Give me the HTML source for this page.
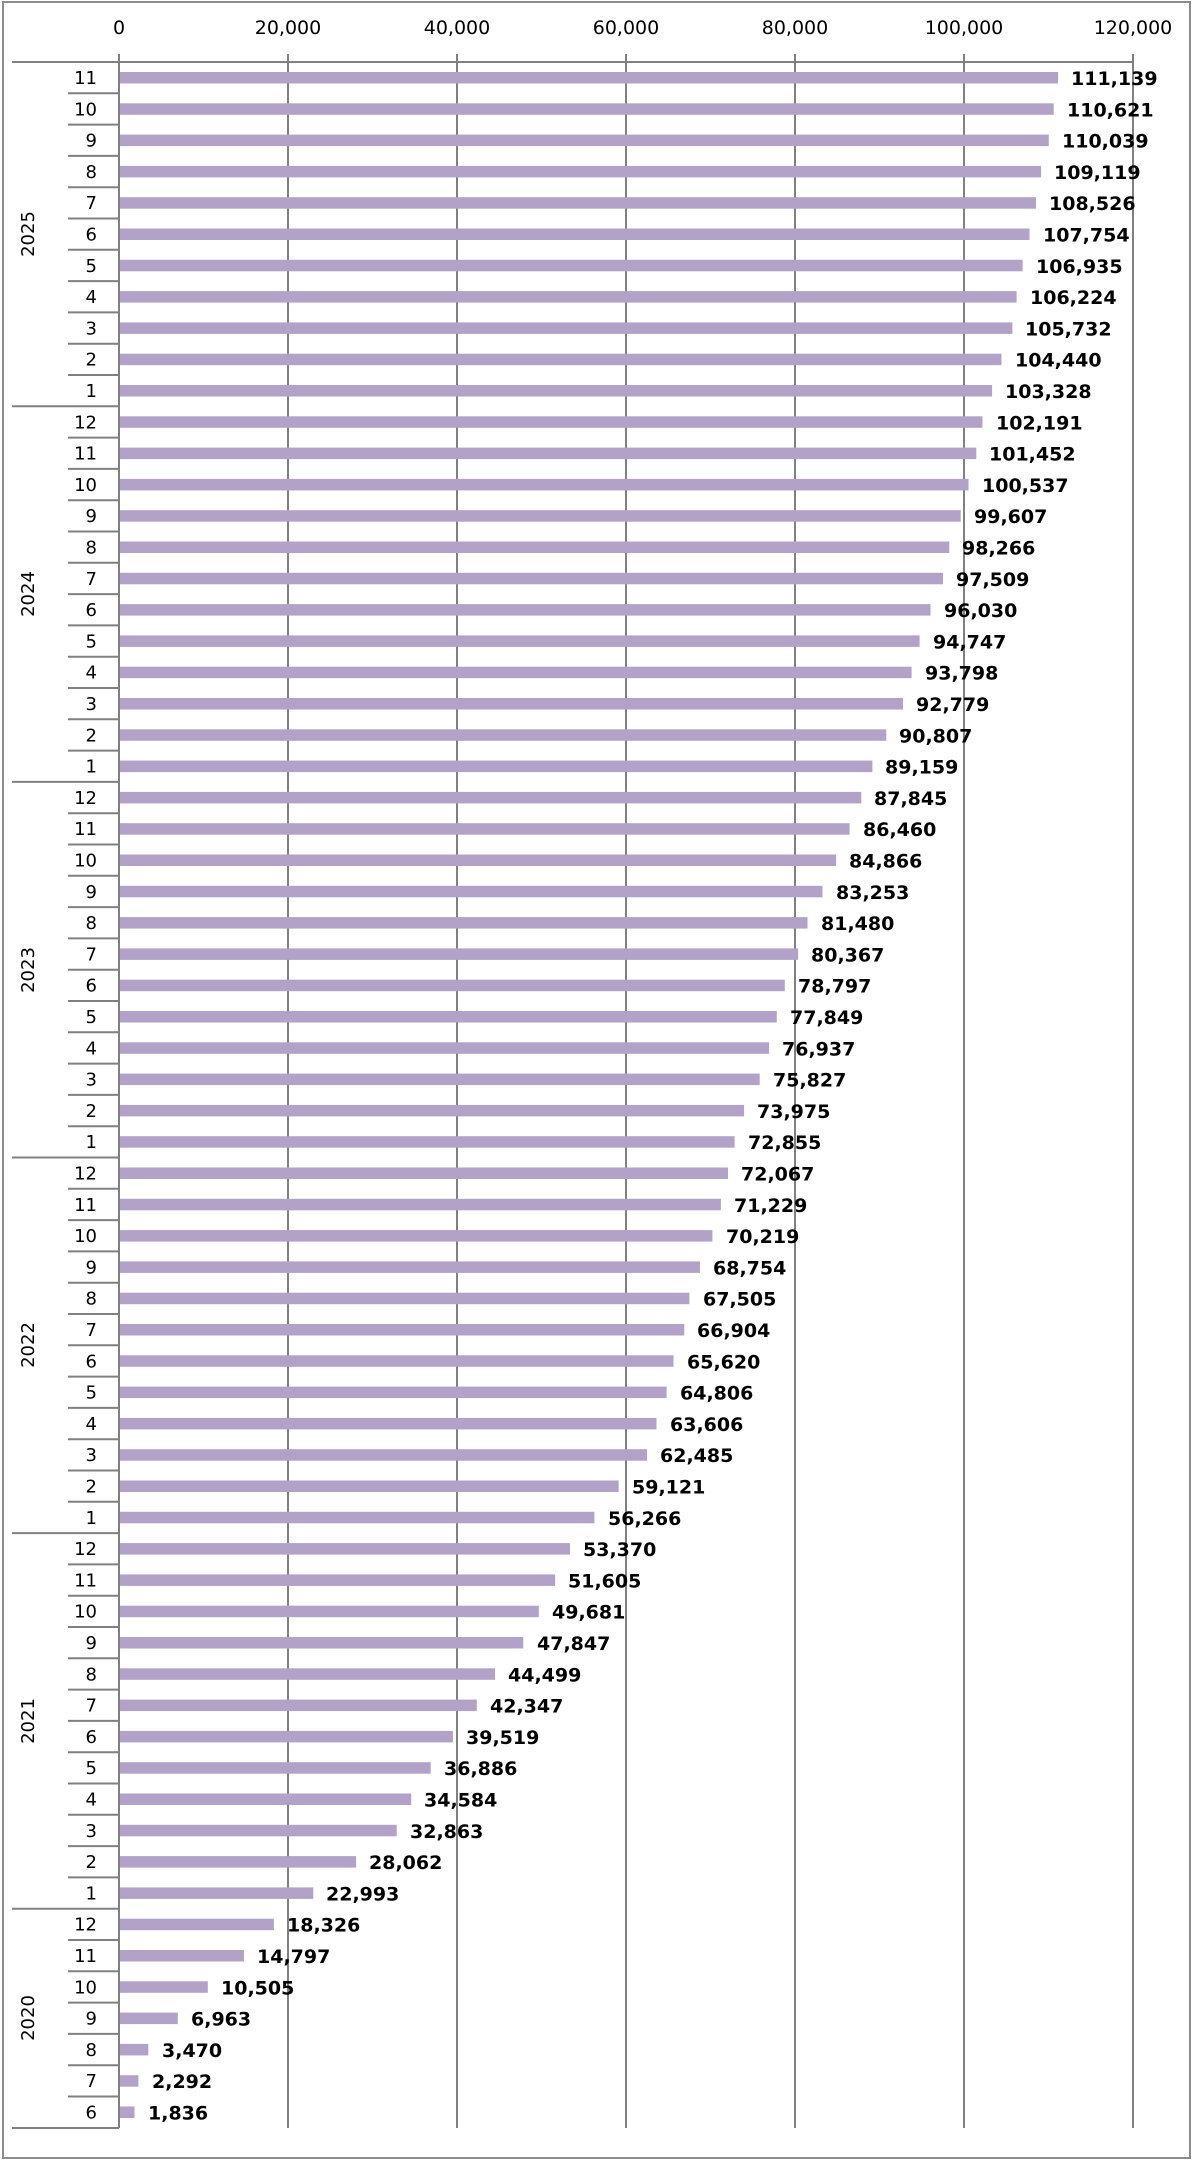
<!DOCTYPE html>
<html><head><meta charset="utf-8"><style>
html,body{margin:0;padding:0;background:#fff;}
svg{display:block;}
.m{font-family:"DejaVu Sans","Liberation Sans",sans-serif;font-size:18px;fill:#000;text-anchor:end;}
.v{font-family:"DejaVu Sans","Liberation Sans",sans-serif;font-size:19px;font-weight:bold;fill:#000;}
.t{font-family:"DejaVu Sans","Liberation Sans",sans-serif;font-size:19px;fill:#000;text-anchor:middle;}
.y{font-family:"DejaVu Sans","Liberation Sans",sans-serif;font-size:18px;fill:#000;text-anchor:middle;}
.b{fill:#b3a2c7;}
.s{stroke:#808080;stroke-width:2;}
</style></head><body>
<svg width="1200" height="2160" viewBox="0 0 1200 2160" xmlns="http://www.w3.org/2000/svg">
<rect x="3" y="2" width="1187" height="2156" fill="#fff" stroke="#8c8c8c" stroke-width="2"/>
<g class="s">
<line x1="288" y1="54" x2="288" y2="2128"/><line x1="457" y1="54" x2="457" y2="2128"/><line x1="626" y1="54" x2="626" y2="2128"/><line x1="795" y1="54" x2="795" y2="2128"/><line x1="964" y1="54" x2="964" y2="2128"/><line x1="1133" y1="54" x2="1133" y2="2128"/>
</g>
<text class="t" x="119" y="34">0</text><text class="t" x="288" y="34">20,000</text><text class="t" x="457" y="34">40,000</text><text class="t" x="626" y="34">60,000</text><text class="t" x="795" y="34">80,000</text><text class="t" x="964" y="34">100,000</text><text class="t" x="1133" y="34">120,000</text>
<g transform="translate(0,62)">
<g transform="translate(0,0)"><rect class="b" x="119" y="10" width="939.1" height="11.5"/><text class="m" x="97" y="22">11</text><text class="v" x="1071" y="23">111,139</text></g>
<g transform="translate(0,31.3)"><rect class="b" x="119" y="10" width="934.7" height="11.5"/><text class="m" x="97" y="22">10</text><text class="v" x="1067" y="23">110,621</text></g>
<g transform="translate(0,62.6)"><rect class="b" x="119" y="10" width="929.8" height="11.5"/><text class="m" x="97" y="22">9</text><text class="v" x="1062" y="23">110,039</text></g>
<g transform="translate(0,93.9)"><rect class="b" x="119" y="10" width="922.1" height="11.5"/><text class="m" x="97" y="22">8</text><text class="v" x="1054" y="23">109,119</text></g>
<g transform="translate(0,125.2)"><rect class="b" x="119" y="10" width="917.0" height="11.5"/><text class="m" x="97" y="22">7</text><text class="v" x="1049" y="23">108,526</text></g>
<g transform="translate(0,156.5)"><rect class="b" x="119" y="10" width="910.5" height="11.5"/><text class="m" x="97" y="22">6</text><text class="v" x="1043" y="23">107,754</text></g>
<g transform="translate(0,187.8)"><rect class="b" x="119" y="10" width="903.6" height="11.5"/><text class="m" x="97" y="22">5</text><text class="v" x="1036" y="23">106,935</text></g>
<g transform="translate(0,219.1)"><rect class="b" x="119" y="10" width="897.6" height="11.5"/><text class="m" x="97" y="22">4</text><text class="v" x="1030" y="23">106,224</text></g>
<g transform="translate(0,250.4)"><rect class="b" x="119" y="10" width="893.4" height="11.5"/><text class="m" x="97" y="22">3</text><text class="v" x="1025" y="23">105,732</text></g>
<g transform="translate(0,281.7)"><rect class="b" x="119" y="10" width="882.5" height="11.5"/><text class="m" x="97" y="22">2</text><text class="v" x="1015" y="23">104,440</text></g>
<g transform="translate(0,313.0)"><rect class="b" x="119" y="10" width="873.1" height="11.5"/><text class="m" x="97" y="22">1</text><text class="v" x="1005" y="23">103,328</text></g>
<g transform="translate(0,344.3)"><rect class="b" x="119" y="10" width="863.5" height="11.5"/><text class="m" x="97" y="22">12</text><text class="v" x="996" y="23">102,191</text></g>
<g transform="translate(0,375.6)"><rect class="b" x="119" y="10" width="857.3" height="11.5"/><text class="m" x="97" y="22">11</text><text class="v" x="989" y="23">101,452</text></g>
<g transform="translate(0,406.9)"><rect class="b" x="119" y="10" width="849.5" height="11.5"/><text class="m" x="97" y="22">10</text><text class="v" x="982" y="23">100,537</text></g>
<g transform="translate(0,438.2)"><rect class="b" x="119" y="10" width="841.7" height="11.5"/><text class="m" x="97" y="22">9</text><text class="v" x="974" y="23">99,607</text></g>
<g transform="translate(0,469.5)"><rect class="b" x="119" y="10" width="830.3" height="11.5"/><text class="m" x="97" y="22">8</text><text class="v" x="962" y="23">98,266</text></g>
<g transform="translate(0,500.8)"><rect class="b" x="119" y="10" width="824.0" height="11.5"/><text class="m" x="97" y="22">7</text><text class="v" x="956" y="23">97,509</text></g>
<g transform="translate(0,532.1)"><rect class="b" x="119" y="10" width="811.5" height="11.5"/><text class="m" x="97" y="22">6</text><text class="v" x="944" y="23">96,030</text></g>
<g transform="translate(0,563.4)"><rect class="b" x="119" y="10" width="800.6" height="11.5"/><text class="m" x="97" y="22">5</text><text class="v" x="933" y="23">94,747</text></g>
<g transform="translate(0,594.7)"><rect class="b" x="119" y="10" width="792.6" height="11.5"/><text class="m" x="97" y="22">4</text><text class="v" x="925" y="23">93,798</text></g>
<g transform="translate(0,626.0)"><rect class="b" x="119" y="10" width="784.0" height="11.5"/><text class="m" x="97" y="22">3</text><text class="v" x="916" y="23">92,779</text></g>
<g transform="translate(0,657.3)"><rect class="b" x="119" y="10" width="767.3" height="11.5"/><text class="m" x="97" y="22">2</text><text class="v" x="899" y="23">90,807</text></g>
<g transform="translate(0,688.6)"><rect class="b" x="119" y="10" width="753.4" height="11.5"/><text class="m" x="97" y="22">1</text><text class="v" x="885" y="23">89,159</text></g>
<g transform="translate(0,719.9)"><rect class="b" x="119" y="10" width="742.3" height="11.5"/><text class="m" x="97" y="22">12</text><text class="v" x="874" y="23">87,845</text></g>
<g transform="translate(0,751.2)"><rect class="b" x="119" y="10" width="730.6" height="11.5"/><text class="m" x="97" y="22">11</text><text class="v" x="863" y="23">86,460</text></g>
<g transform="translate(0,782.5)"><rect class="b" x="119" y="10" width="717.1" height="11.5"/><text class="m" x="97" y="22">10</text><text class="v" x="849" y="23">84,866</text></g>
<g transform="translate(0,813.8)"><rect class="b" x="119" y="10" width="703.5" height="11.5"/><text class="m" x="97" y="22">9</text><text class="v" x="836" y="23">83,253</text></g>
<g transform="translate(0,845.1)"><rect class="b" x="119" y="10" width="688.5" height="11.5"/><text class="m" x="97" y="22">8</text><text class="v" x="821" y="23">81,480</text></g>
<g transform="translate(0,876.4)"><rect class="b" x="119" y="10" width="679.1" height="11.5"/><text class="m" x="97" y="22">7</text><text class="v" x="811" y="23">80,367</text></g>
<g transform="translate(0,907.7)"><rect class="b" x="119" y="10" width="665.8" height="11.5"/><text class="m" x="97" y="22">6</text><text class="v" x="798" y="23">78,797</text></g>
<g transform="translate(0,939.0)"><rect class="b" x="119" y="10" width="657.8" height="11.5"/><text class="m" x="97" y="22">5</text><text class="v" x="790" y="23">77,849</text></g>
<g transform="translate(0,970.3)"><rect class="b" x="119" y="10" width="650.1" height="11.5"/><text class="m" x="97" y="22">4</text><text class="v" x="782" y="23">76,937</text></g>
<g transform="translate(0,1001.6)"><rect class="b" x="119" y="10" width="640.7" height="11.5"/><text class="m" x="97" y="22">3</text><text class="v" x="773" y="23">75,827</text></g>
<g transform="translate(0,1032.9)"><rect class="b" x="119" y="10" width="625.1" height="11.5"/><text class="m" x="97" y="22">2</text><text class="v" x="757" y="23">73,975</text></g>
<g transform="translate(0,1064.2)"><rect class="b" x="119" y="10" width="615.6" height="11.5"/><text class="m" x="97" y="22">1</text><text class="v" x="748" y="23">72,855</text></g>
<g transform="translate(0,1095.5)"><rect class="b" x="119" y="10" width="609.0" height="11.5"/><text class="m" x="97" y="22">12</text><text class="v" x="741" y="23">72,067</text></g>
<g transform="translate(0,1126.8)"><rect class="b" x="119" y="10" width="601.9" height="11.5"/><text class="m" x="97" y="22">11</text><text class="v" x="734" y="23">71,229</text></g>
<g transform="translate(0,1158.1)"><rect class="b" x="119" y="10" width="593.4" height="11.5"/><text class="m" x="97" y="22">10</text><text class="v" x="726" y="23">70,219</text></g>
<g transform="translate(0,1189.4)"><rect class="b" x="119" y="10" width="581.0" height="11.5"/><text class="m" x="97" y="22">9</text><text class="v" x="713" y="23">68,754</text></g>
<g transform="translate(0,1220.7)"><rect class="b" x="119" y="10" width="570.4" height="11.5"/><text class="m" x="97" y="22">8</text><text class="v" x="703" y="23">67,505</text></g>
<g transform="translate(0,1252.0)"><rect class="b" x="119" y="10" width="565.3" height="11.5"/><text class="m" x="97" y="22">7</text><text class="v" x="697" y="23">66,904</text></g>
<g transform="translate(0,1283.3)"><rect class="b" x="119" y="10" width="554.5" height="11.5"/><text class="m" x="97" y="22">6</text><text class="v" x="687" y="23">65,620</text></g>
<g transform="translate(0,1314.6)"><rect class="b" x="119" y="10" width="547.6" height="11.5"/><text class="m" x="97" y="22">5</text><text class="v" x="680" y="23">64,806</text></g>
<g transform="translate(0,1345.9)"><rect class="b" x="119" y="10" width="537.5" height="11.5"/><text class="m" x="97" y="22">4</text><text class="v" x="670" y="23">63,606</text></g>
<g transform="translate(0,1377.2)"><rect class="b" x="119" y="10" width="528.0" height="11.5"/><text class="m" x="97" y="22">3</text><text class="v" x="660" y="23">62,485</text></g>
<g transform="translate(0,1408.5)"><rect class="b" x="119" y="10" width="499.6" height="11.5"/><text class="m" x="97" y="22">2</text><text class="v" x="632" y="23">59,121</text></g>
<g transform="translate(0,1439.8)"><rect class="b" x="119" y="10" width="475.4" height="11.5"/><text class="m" x="97" y="22">1</text><text class="v" x="608" y="23">56,266</text></g>
<g transform="translate(0,1471.1)"><rect class="b" x="119" y="10" width="451.0" height="11.5"/><text class="m" x="97" y="22">12</text><text class="v" x="583" y="23">53,370</text></g>
<g transform="translate(0,1502.4)"><rect class="b" x="119" y="10" width="436.1" height="11.5"/><text class="m" x="97" y="22">11</text><text class="v" x="568" y="23">51,605</text></g>
<g transform="translate(0,1533.7)"><rect class="b" x="119" y="10" width="419.8" height="11.5"/><text class="m" x="97" y="22">10</text><text class="v" x="552" y="23">49,681</text></g>
<g transform="translate(0,1565.0)"><rect class="b" x="119" y="10" width="404.3" height="11.5"/><text class="m" x="97" y="22">9</text><text class="v" x="537" y="23">47,847</text></g>
<g transform="translate(0,1596.3)"><rect class="b" x="119" y="10" width="376.0" height="11.5"/><text class="m" x="97" y="22">8</text><text class="v" x="508" y="23">44,499</text></g>
<g transform="translate(0,1627.6)"><rect class="b" x="119" y="10" width="357.8" height="11.5"/><text class="m" x="97" y="22">7</text><text class="v" x="490" y="23">42,347</text></g>
<g transform="translate(0,1658.9)"><rect class="b" x="119" y="10" width="333.9" height="11.5"/><text class="m" x="97" y="22">6</text><text class="v" x="466" y="23">39,519</text></g>
<g transform="translate(0,1690.2)"><rect class="b" x="119" y="10" width="311.7" height="11.5"/><text class="m" x="97" y="22">5</text><text class="v" x="444" y="23">36,886</text></g>
<g transform="translate(0,1721.5)"><rect class="b" x="119" y="10" width="292.2" height="11.5"/><text class="m" x="97" y="22">4</text><text class="v" x="424" y="23">34,584</text></g>
<g transform="translate(0,1752.8)"><rect class="b" x="119" y="10" width="277.7" height="11.5"/><text class="m" x="97" y="22">3</text><text class="v" x="410" y="23">32,863</text></g>
<g transform="translate(0,1784.1)"><rect class="b" x="119" y="10" width="237.1" height="11.5"/><text class="m" x="97" y="22">2</text><text class="v" x="369" y="23">28,062</text></g>
<g transform="translate(0,1815.4)"><rect class="b" x="119" y="10" width="194.3" height="11.5"/><text class="m" x="97" y="22">1</text><text class="v" x="326" y="23">22,993</text></g>
<g transform="translate(0,1846.7)"><rect class="b" x="119" y="10" width="154.9" height="11.5"/><text class="m" x="97" y="22">12</text><text class="v" x="287" y="23">18,326</text></g>
<g transform="translate(0,1878.0)"><rect class="b" x="119" y="10" width="125.0" height="11.5"/><text class="m" x="97" y="22">11</text><text class="v" x="257" y="23">14,797</text></g>
<g transform="translate(0,1909.3)"><rect class="b" x="119" y="10" width="88.8" height="11.5"/><text class="m" x="97" y="22">10</text><text class="v" x="221" y="23">10,505</text></g>
<g transform="translate(0,1940.6)"><rect class="b" x="119" y="10" width="58.8" height="11.5"/><text class="m" x="97" y="22">9</text><text class="v" x="191" y="23">6,963</text></g>
<g transform="translate(0,1971.9)"><rect class="b" x="119" y="10" width="29.3" height="11.5"/><text class="m" x="97" y="22">8</text><text class="v" x="162" y="23">3,470</text></g>
<g transform="translate(0,2003.2)"><rect class="b" x="119" y="10" width="19.4" height="11.5"/><text class="m" x="97" y="22">7</text><text class="v" x="152" y="23">2,292</text></g>
<g transform="translate(0,2034.5)"><rect class="b" x="119" y="10" width="15.5" height="11.5"/><text class="m" x="97" y="22">6</text><text class="v" x="148" y="23">1,836</text></g>
</g>
<g class="s">
<line x1="12" y1="62" x2="1133" y2="62"/>
<line x1="119" y1="54" x2="119" y2="2128"/>
<line x1="12" y1="2128" x2="119" y2="2128"/>
<line x1="12" y1="406.3" x2="119" y2="406.3"/>
<line x1="12" y1="781.9" x2="119" y2="781.9"/>
<line x1="12" y1="1157.5" x2="119" y2="1157.5"/>
<line x1="12" y1="1533.1" x2="119" y2="1533.1"/>
<line x1="12" y1="1908.7" x2="119" y2="1908.7"/>
<line x1="68" y1="93.3" x2="119" y2="93.3"/><line x1="68" y1="124.6" x2="119" y2="124.6"/><line x1="68" y1="155.9" x2="119" y2="155.9"/><line x1="68" y1="187.2" x2="119" y2="187.2"/><line x1="68" y1="218.5" x2="119" y2="218.5"/><line x1="68" y1="249.8" x2="119" y2="249.8"/><line x1="68" y1="281.1" x2="119" y2="281.1"/><line x1="68" y1="312.4" x2="119" y2="312.4"/><line x1="68" y1="343.7" x2="119" y2="343.7"/><line x1="68" y1="375.0" x2="119" y2="375.0"/>
<line x1="68" y1="437.6" x2="119" y2="437.6"/><line x1="68" y1="468.9" x2="119" y2="468.9"/><line x1="68" y1="500.2" x2="119" y2="500.2"/><line x1="68" y1="531.5" x2="119" y2="531.5"/><line x1="68" y1="562.8" x2="119" y2="562.8"/><line x1="68" y1="594.1" x2="119" y2="594.1"/><line x1="68" y1="625.4" x2="119" y2="625.4"/><line x1="68" y1="656.7" x2="119" y2="656.7"/><line x1="68" y1="688.0" x2="119" y2="688.0"/><line x1="68" y1="719.3" x2="119" y2="719.3"/><line x1="68" y1="750.6" x2="119" y2="750.6"/>
<line x1="68" y1="813.2" x2="119" y2="813.2"/><line x1="68" y1="844.5" x2="119" y2="844.5"/><line x1="68" y1="875.8" x2="119" y2="875.8"/><line x1="68" y1="907.1" x2="119" y2="907.1"/><line x1="68" y1="938.4" x2="119" y2="938.4"/><line x1="68" y1="969.7" x2="119" y2="969.7"/><line x1="68" y1="1001.0" x2="119" y2="1001.0"/><line x1="68" y1="1032.3" x2="119" y2="1032.3"/><line x1="68" y1="1063.6" x2="119" y2="1063.6"/><line x1="68" y1="1094.9" x2="119" y2="1094.9"/><line x1="68" y1="1126.2" x2="119" y2="1126.2"/>
<line x1="68" y1="1188.8" x2="119" y2="1188.8"/><line x1="68" y1="1220.1" x2="119" y2="1220.1"/><line x1="68" y1="1251.4" x2="119" y2="1251.4"/><line x1="68" y1="1282.7" x2="119" y2="1282.7"/><line x1="68" y1="1314.0" x2="119" y2="1314.0"/><line x1="68" y1="1345.3" x2="119" y2="1345.3"/><line x1="68" y1="1376.6" x2="119" y2="1376.6"/><line x1="68" y1="1407.9" x2="119" y2="1407.9"/><line x1="68" y1="1439.2" x2="119" y2="1439.2"/><line x1="68" y1="1470.5" x2="119" y2="1470.5"/><line x1="68" y1="1501.8" x2="119" y2="1501.8"/>
<line x1="68" y1="1564.4" x2="119" y2="1564.4"/><line x1="68" y1="1595.7" x2="119" y2="1595.7"/><line x1="68" y1="1627.0" x2="119" y2="1627.0"/><line x1="68" y1="1658.3" x2="119" y2="1658.3"/><line x1="68" y1="1689.6" x2="119" y2="1689.6"/><line x1="68" y1="1720.9" x2="119" y2="1720.9"/><line x1="68" y1="1752.2" x2="119" y2="1752.2"/><line x1="68" y1="1783.5" x2="119" y2="1783.5"/><line x1="68" y1="1814.8" x2="119" y2="1814.8"/><line x1="68" y1="1846.1" x2="119" y2="1846.1"/><line x1="68" y1="1877.4" x2="119" y2="1877.4"/>
<line x1="68" y1="1940.0" x2="119" y2="1940.0"/><line x1="68" y1="1971.3" x2="119" y2="1971.3"/><line x1="68" y1="2002.6" x2="119" y2="2002.6"/><line x1="68" y1="2033.9" x2="119" y2="2033.9"/><line x1="68" y1="2065.2" x2="119" y2="2065.2"/><line x1="68" y1="2096.5" x2="119" y2="2096.5"/>
</g>
<text class="y" transform="translate(34,234) rotate(-90)">2025</text>
<text class="y" transform="translate(34,594) rotate(-90)">2024</text>
<text class="y" transform="translate(34,970) rotate(-90)">2023</text>
<text class="y" transform="translate(34,1345) rotate(-90)">2022</text>
<text class="y" transform="translate(34,1721) rotate(-90)">2021</text>
<text class="y" transform="translate(34,2018) rotate(-90)">2020</text>
</svg>
</body></html>
